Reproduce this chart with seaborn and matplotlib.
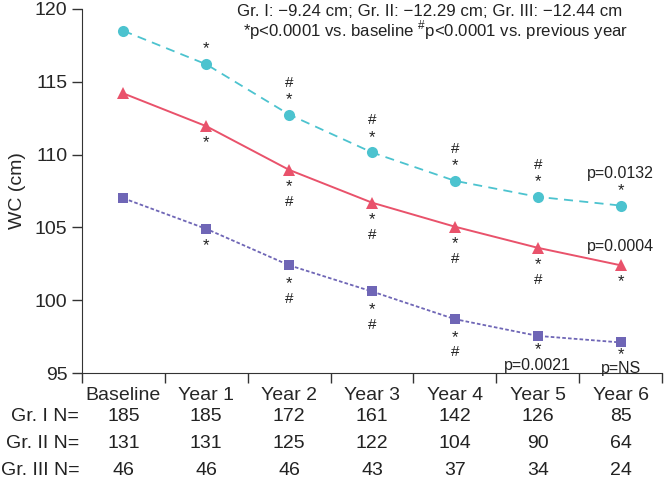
"""Waist circumference over 6 years, three groups"""
import numpy as np
import pandas as pd
import seaborn as sns
from matplotlib import pyplot as plt

categories = ["Baseline", "Year 1", "Year 2", "Year 3", "Year 4", "Year 5", "Year 6"]
gr1_wc = [118.5, 116.2, 112.75, 110.15, 108.2, 107.1, 106.5]
gr2_wc = [114.2, 111.95, 108.95, 106.7, 105.05, 103.6, 102.4]
gr3_wc = [107.0, 104.9, 102.4, 100.6, 98.7, 97.55, 97.1]

gr1_n = [185, 185, 172, 161, 142, 126, 85]
gr2_n = [131, 131, 125, 122, 104, 90, 64]
gr3_n = [46, 46, 46, 43, 37, 34, 24]
row_labels = ["Gr. I N=", "Gr. II N=", "Gr. III N="]

# significance marks per point (nearest to point first)
gr1_marks = ["", "*", "*#", "*#", "*#", "*#", "*"]
gr2_marks = ["", "*", "*#", "*#", "*#", "*#", "*"]
gr3_marks = ["", "*", "*#", "*#", "*#", "*", "*"]

header_1 = "Gr. I: \u22129.24 cm; Gr. II: \u221212.29 cm; Gr. III: \u221212.44 cm"
header_2 = r"*p<0.0001 vs. baseline $^{\#}$p<0.0001 vs. previous year"

CYAN = "#4cc3cf"
RED = "#e9526b"
PURPLE = "#6f66b6"

sns.set_style("ticks")
plt.rcParams["font.family"] = ["Liberation Sans", "DejaVu Sans"]
plt.rcParams["mathtext.fontset"] = "custom"
plt.rcParams["mathtext.rm"] = "Liberation Sans"
plt.rcParams["axes.edgecolor"] = "#333333"
plt.rcParams["text.color"] = "#222222"

x = np.arange(len(categories))
df = pd.DataFrame({"x": x, "gr1": gr1_wc, "gr2": gr2_wc, "gr3": gr3_wc})

fig = plt.figure(figsize=(6.64, 4.83), dpi=100)
ax = fig.add_axes([0.1235, 0.2277, 0.8735, 0.7537])

sns.lineplot(data=df, x="x", y="gr1", ax=ax, color=CYAN, lw=1.3,
             marker="o", markersize=8, markeredgewidth=0)
ax.lines[-1].set_dashes([5, 3.5])
sns.lineplot(data=df, x="x", y="gr2", ax=ax, color=RED, lw=1.4,
             marker="^", markersize=9, markeredgewidth=0)
sns.lineplot(data=df, x="x", y="gr3", ax=ax, color=PURPLE, lw=1.3,
             marker="s", markersize=7, markeredgewidth=0)
ax.lines[-1].set_dashes([2, 1.2])

ax.set_xlim(-0.5, len(categories) - 0.5)
ax.set_ylim(95, 120)
ax.set_yticks([95, 100, 105, 110, 115, 120])
ax.set_xticks(np.arange(len(categories) + 1) - 0.5)
ax.set_xticklabels([])
ax.set_xticks(x, minor=True)
ax.set_xticklabels(categories, minor=True)
ax.tick_params(axis="x", which="minor", length=0, pad=10, labelsize=14)
ax.tick_params(axis="both", which="major", length=7, width=1, labelsize=14,
               color="#333333")
ax.set_xlabel("")
ax.set_ylabel("WC (cm)", fontsize=14, labelpad=6)
sns.despine(ax=ax)


def put_marks(vals, marks, sign, first, gap=11.0):
    for i, (v, m) in enumerate(zip(vals, marks)):
        for k, ch in enumerate(m):
            off = first[i] + k * gap
            dy = off if sign > 0 else -off
            ax.annotate(ch, (i, v), xytext=(0, dy), textcoords="offset points",
                        ha="center", va="center", fontsize=12 if ch == "*" else 11)


put_marks(gr1_wc, gr1_marks, +1, first=[11] * 7, gap=12)
put_marks(gr2_wc, gr2_marks, -1, first=[12] * 7)
put_marks(gr3_wc, gr3_marks, -1, first=[12, 12, 13, 13, 13, 10, 9])

ax.annotate("p=0.0132", (6, gr1_wc[6]), xytext=(0, 23), textcoords="offset points",
            ha="center", va="center", fontsize=11.5)
ax.annotate("p=0.0004", (6, gr2_wc[6]), xytext=(0, 13.5), textcoords="offset points",
            ha="center", va="center", fontsize=11.5)
ax.annotate("p=0.0021", (5, gr3_wc[5]), xytext=(0, -21.5), textcoords="offset points",
            ha="center", va="center", fontsize=11.5)
ax.annotate("p=NS", (6, gr3_wc[6]), xytext=(0, -18.5), textcoords="offset points",
            ha="center", va="center", fontsize=11.5)

h1 = fig.text(622 / 664, 1 - 12 / 483, header_1, ha="right", va="center", fontsize=12)
h2 = fig.text(628 / 664, 1 - 30 / 483, header_2, ha="right", va="center", fontsize=12)

# N table below the axis
for r, (lab, ns) in enumerate(zip(row_labels, [gr1_n, gr2_n, gr3_n])):
    dy = -31 - r * 19.5
    ax.annotate(lab, (-0.5, 0), xycoords=("data", "axes fraction"),
                xytext=(-2, dy), textcoords="offset points",
                ha="right", va="center", fontsize=14, annotation_clip=False)
    for i, n in enumerate(ns):
        ax.annotate(str(n), (i, 0), xycoords=("data", "axes fraction"),
                    xytext=(0, dy), textcoords="offset points",
                    ha="center", va="center", fontsize=14, annotation_clip=False)

# scale header lines to the width they take in the reference (~384 px)
fig.canvas.draw()
renderer = fig.canvas.get_renderer()
for t in (h1, h2):
    w = t.get_window_extent(renderer).width
    t.set_fontsize(min(13.0, t.get_fontsize() * 384 / w))

fig.savefig("out.png", dpi=100)
